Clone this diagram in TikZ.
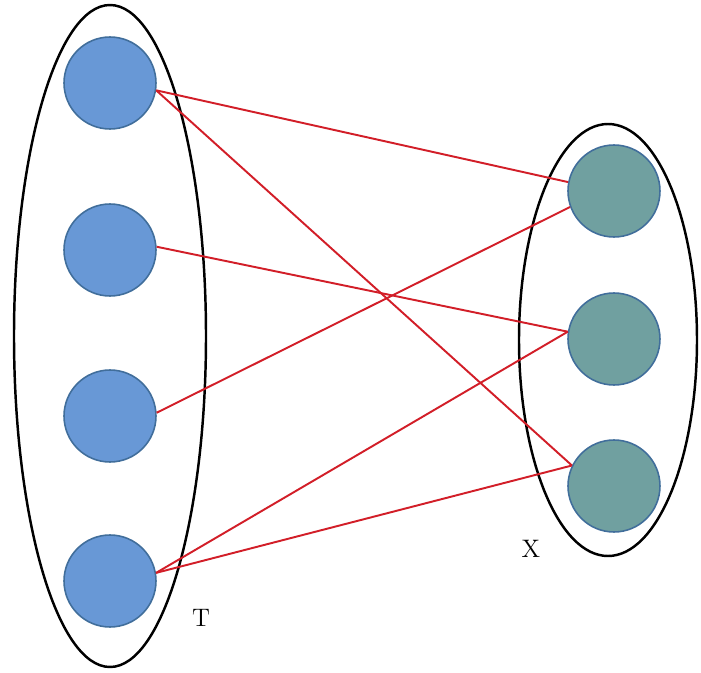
\documentclass[tikz,border=0pt]{standalone}
\usepackage{tikz}
\usetikzlibrary{positioning}
\definecolor{leftdot}{RGB}{104,152,214}
\definecolor{rightdot}{RGB}{112,160,160}
\definecolor{dotedge}{RGB}{65,110,155}
\definecolor{edgered}{RGB}{210,30,40}
\tikzset{
  tdot/.style={
    circle,
    draw=dotedge,
    fill=leftdot,
    line width=0.9pt,
    minimum size=1.84cm,
    inner sep=0pt
  },
  xdot/.style={tdot, fill=rightdot},
  link/.style={draw=edgered, line width=1.1pt},
  ring/.style={line width=1.4pt},
  setlabel/.style={font=\Large}
}

\begin{document}
\begin{tikzpicture}[x=0.02cm, y=-0.02cm]
        \useasboundingbox (0,0) rectangle (701,673);
        \draw[ring] (110,336) ellipse [x radius=96, y radius=331];
        \draw[ring] (608,340) ellipse [x radius=89, y radius=216];
        \node[tdot] (t1) at (110,83) {};
        \node[tdot] (t2) at (110,250) {};
        \node[tdot] (t3) at (110,416) {};
        \node[tdot] (t4) at (110,581) {};
        \node[xdot] (x1) at (614,191) {};
        \node[xdot] (x2) at (614,339) {};
        \node[xdot] (x3) at (614,486) {};
        \node[setlabel] (tlab) at (201,618) {T};
        \node[setlabel] (xlab) at (531,549) {X};
        \draw[link] (t1.-9) -- (x1.169);
        \draw[link] (t1.-9) -- (x3.154);
        \draw[link] (t2.4) -- (x2.171);
        \draw[link] (t3.4) -- (x1.200);
        \draw[link] (t4.10) -- (x2.171);
        \draw[link] (t4.10) -- (x3.154);
      \end{tikzpicture}
\end{document}
